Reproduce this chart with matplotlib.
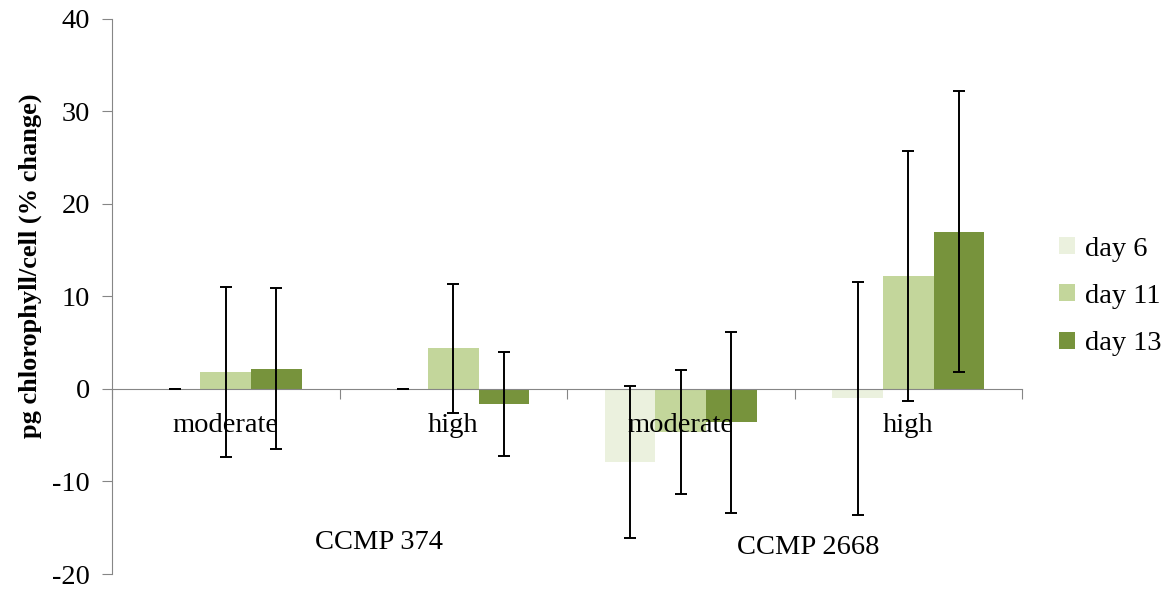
import matplotlib.pyplot as plt
import numpy as np

plt.rcParams['font.family'] = ['Liberation Serif', 'DejaVu Serif']
plt.rcParams['axes.unicode_minus'] = False

categories = ["moderate", "high", "moderate", "high"]
strains = ["CCMP 374", "CCMP 2668"]
series = ["day 6", "day 11", "day 13"]

day6 = [0.0, 0.0, -7.9, -1.0]
day11 = [1.8, 4.4, -4.7, 12.2]
day13 = [2.2, -1.6, -3.6, 17.0]

err6 = [0.0, 0.0, 8.2, 12.6]
err11 = [9.2, 7.0, 6.7, 13.5]
err13 = [8.7, 5.6, 9.8, 15.2]

colors = ["#EBF1DE", "#C3D69B", "#77933C"]

fig = plt.figure(figsize=(11.73, 5.92), dpi=100)
ax = fig.add_axes([0.0955, 0.0304, 0.7758, 0.9376])

x = np.arange(len(categories))
w = 0.2225
for i, (vals, errs) in enumerate([(day6, err6), (day11, err11), (day13, err13)]):
    ax.bar(x + (i - 1) * w, vals, w, color=colors[i], label=series[i], zorder=1)
    ax.errorbar(x + (i - 1) * w, vals, yerr=errs, fmt='none', ecolor='black',
                elinewidth=1.4, capsize=4.5, capthick=1.4, zorder=3)

ax.set_xlim(-0.5, 3.5)
ax.set_ylim(-20, 40)
ax.set_yticks(np.arange(-20, 41, 10))
ax.tick_params(axis='y', labelsize=20.5, direction='out', length=7, color='#868686', pad=9)

ax.spines['top'].set_visible(False)
ax.spines['right'].set_visible(False)
ax.spines['left'].set_color('#868686')
ax.spines['bottom'].set_color('#868686')
ax.spines['bottom'].set_position(('data', 0))
ax.spines['bottom'].set_zorder(2)
ax.set_xticks(np.arange(-0.5, 3.6, 1))
ax.set_xticklabels([])
ax.tick_params(axis='x', direction='out', length=7, color='#868686')

for xi, c in zip(x, categories):
    ax.text(xi, -3.9, c, ha='center', va='center', fontsize=20.5)
ax.text(0.674, -16.6, strains[0], ha='center', va='center', fontsize=20.5)
ax.text(2.559, -17.15, strains[1], ha='center', va='center', fontsize=20.5)

ax.set_ylabel("pg chlorophyll/cell (% change)", fontsize=19, fontweight='bold')
ax.yaxis.set_label_coords(-0.077, 0.555)

ax.legend(loc='center left', bbox_to_anchor=(1.013, 0.5), frameon=False, fontsize=20.5,
          handlelength=0.55, handleheight=0.55, handletextpad=0.35, labelspacing=0.78)

fig.savefig("out.png", dpi=100)
